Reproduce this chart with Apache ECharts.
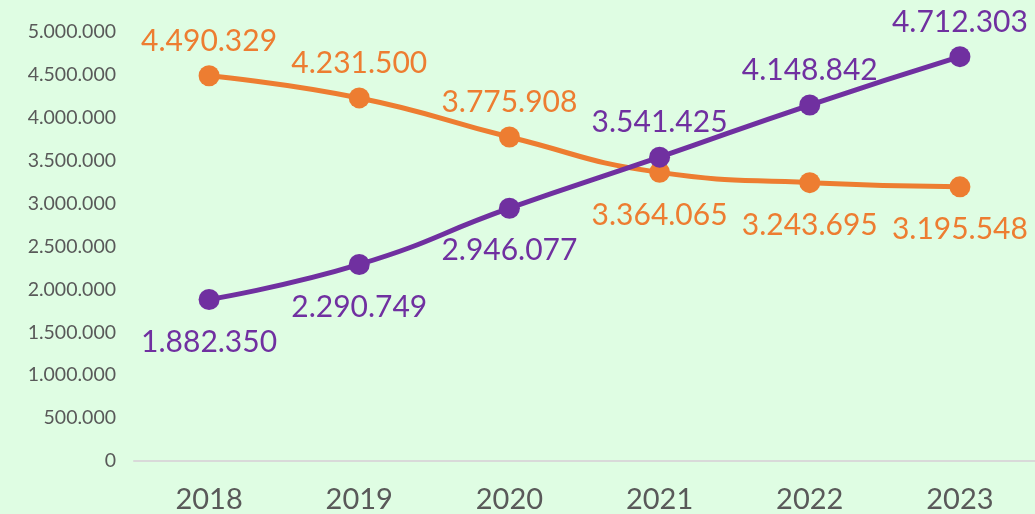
<!DOCTYPE html>
<html><head><meta charset="utf-8">
<script src="https://cdn.jsdelivr.net/npm/echarts@6/dist/echarts.min.js"></script>
<style>html,body{margin:0;padding:0;background:#dffde3;}#c{width:1035px;height:514px;}</style>
</head><body><div id="c"></div>
<script>
const categories = ['2018','2019','2020','2021','2022','2023'];
const orangeValues = [4490329, 4231500, 3775908, 3364065, 3243695, 3195548];
const purpleValues = [1882350, 2290749, 2946077, 3541425, 4148842, 4712303];
const orangeLabelPos = ['top','top','top','bottom','bottom','bottom'];
const purpleLabelPos = ['bottom','bottom','bottom','top','top','top'];

function fmt(v){ return String(v).replace(/\B(?=(\d{3})+(?!\d))/g, '.'); }

function mk(name, vals, pos, color){
  return {
    name, type:'line', smooth:0.5, symbol:'circle', symbolSize:21,
    lineStyle:{width:5,color}, itemStyle:{color},
    data: vals.map((v,i)=>({value:v,label:{position:pos[i], distance: pos[i]==='top'?9:17}})),
    label:{show:true, color, fontFamily:'Lato', fontSize:30, formatter:p=>fmt(p.value)}
  };
}
const chart = echarts.init(document.getElementById('c'));
chart.setOption({
  backgroundColor:'#dffde3',
  animation:false,
  grid:{left:134,right:-3,top:32,bottom:52,containLabel:false},
  xAxis:{type:'category',data:categories,boundaryGap:true,
    axisLine:{lineStyle:{color:'#d9d9d9',width:2}},axisTick:{show:false},
    axisLabel:{color:'#595959',fontFamily:'Lato',fontSize:29,margin:24}},
  yAxis:{type:'value',min:0,max:5000000,interval:500000,
    splitLine:{show:false},axisLine:{show:false},axisTick:{show:false},
    axisLabel:{color:'#595959',fontFamily:'Lato',fontSize:19.5,margin:18,formatter:v=>fmt(v)}},
  series:[mk('orange',orangeValues,orangeLabelPos,'#ed7d31'), mk('purple',purpleValues,purpleLabelPos,'#7030a0')]
});
</script></body></html>
